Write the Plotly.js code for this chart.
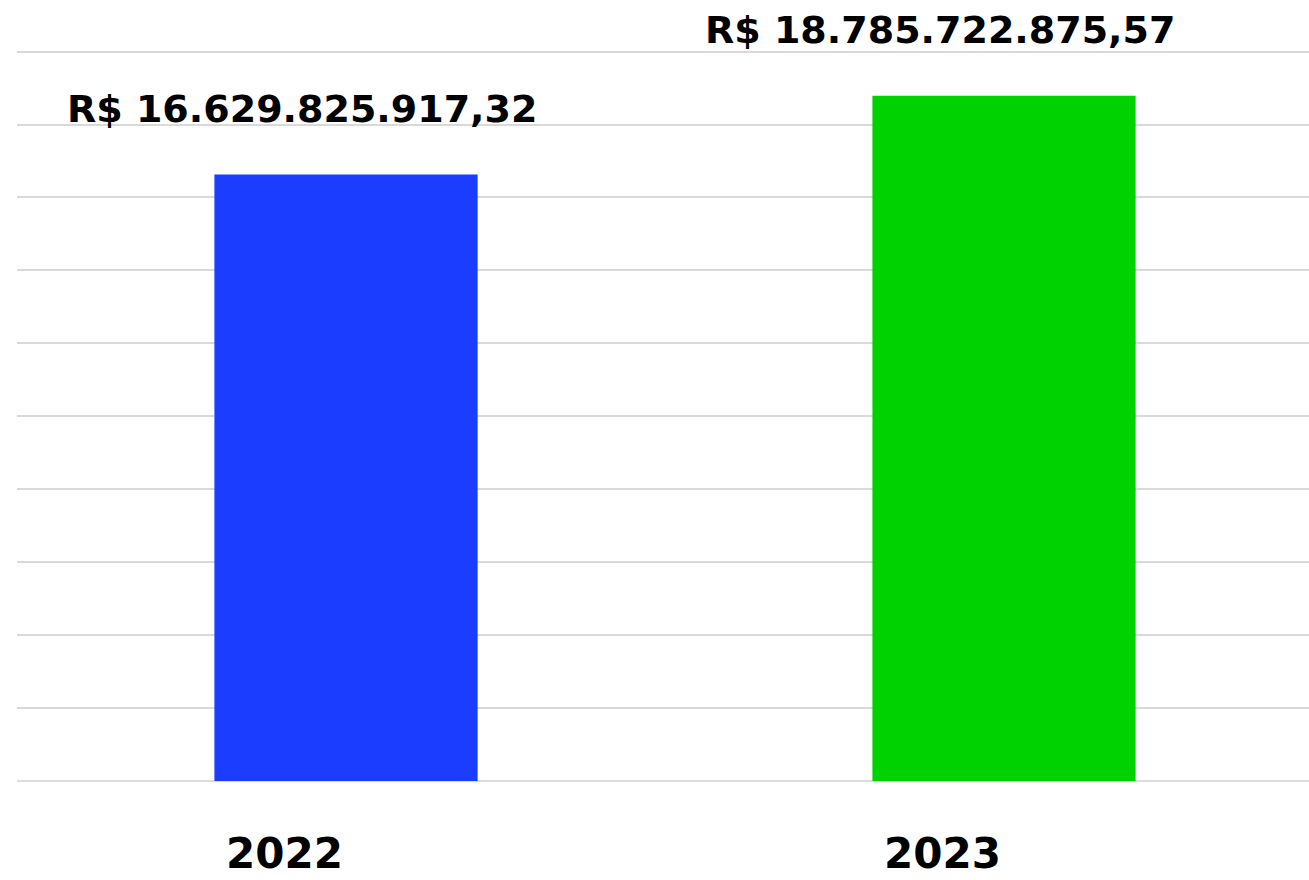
<!DOCTYPE html>
<html>
<head>
<meta charset="utf-8">
<script src="https://cdn.plot.ly/plotly-3.0.1.min.js"></script>
<style>
html,body{margin:0;padding:0;background:#fff;overflow:hidden;}
#chart{width:1309px;height:880px;}
</style>
</head>
<body>
<div id="chart"></div>
<script>
const years = ["2022", "2023"];
const values = [16629825917.32, 18785722875.57];
const valueLabels = ["R$ 16.629.825.917,32", "R$ 18.785.722.875,57"];
const barColors = ["#1a3dff", "#00d100"];

const labelXShift = [-44, -64];
const yearXShift = [-62, -62];

const annotations = [];
years.forEach((yr, i) => {
  annotations.push({
    x: i, y: values[i], xref: 'x', yref: 'y',
    text: '<b>' + valueLabels[i] + '</b>', showarrow: false,
    xanchor: 'center', yanchor: 'middle', borderpad: 0,
    xshift: labelXShift[i], yshift: 66,
    font: {family: '"DejaVu Sans", sans-serif', size: 38, color: '#000000'}
  });
  annotations.push({
    x: i, y: 0, xref: 'x', yref: 'y',
    text: '<b>' + yr + '</b>', showarrow: false,
    xanchor: 'center', yanchor: 'middle', borderpad: 0,
    xshift: yearXShift[i], yshift: -72,
    font: {family: '"DejaVu Sans", sans-serif', size: 42, color: '#000000'}
  });
});

const data = [{
  type: 'bar',
  x: years,
  y: values,
  width: 0.4,
  marker: {color: barColors},
  hoverinfo: 'skip'
}];

const layout = {
  width: 1309, height: 880,
  margin: {l: 17, r: 0, t: 37.4, b: 98.5},
  paper_bgcolor: '#fff', plot_bgcolor: '#fff',
  showlegend: false,
  xaxis: {type: 'category', range: [-0.5, 1.4635], showticklabels: false, showgrid: false, zeroline: false, showline: false, ticks: ''},
  yaxis: {range: [0, 20.4e9], dtick: 2e9, tick0: 0, showticklabels: false, showgrid: true, gridcolor: '#d9d9d9', gridwidth: 2, zeroline: true, zerolinecolor: '#dcdcdc', zerolinewidth: 2, showline: false, ticks: ''},
  annotations: annotations
};

Plotly.newPlot('chart', data, layout, {displayModeBar: false});
</script>
</body>
</html>
